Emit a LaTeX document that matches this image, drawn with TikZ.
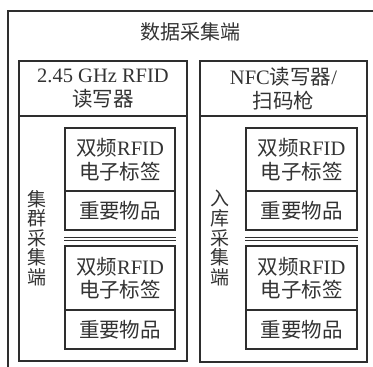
\documentclass[tikz,border=0pt]{standalone}
\usepackage{fontspec}
\setmainfont{Liberation Serif}
\newfontfamily\cjk{Noto Sans CJK SC}
\newcommand{\zh}[1]{{\cjk #1}}
\definecolor{ln}{HTML}{2E2E2E}
\definecolor{tx}{HTML}{333333}
\tikzset{
  box/.style={draw=ln, line width=1.2pt, rectangle, inner sep=0pt, align=center, text=tx,
    font=\fontsize{20.5}{23.5}\selectfont},
  lbl/.style={inner sep=0pt, align=center, text=tx, font=\fontsize{20}{23.5}\selectfont},
  vlbl/.style={inner sep=0pt, align=center, text=tx, font=\fontsize{19}{19.6}\selectfont},
  sep/.style={draw=ln, line width=1.2pt}
}
\begin{document}
\begin{tikzpicture}[x=1pt,y=-1pt]
\useasboundingbox (0,0) rectangle (373,367);
\clip (0,0) rectangle (373,367);
% outer
\node[box, minimum width=392pt, minimum height=390pt] (outer) at (204,206) {};
\node[lbl] (title) at (190,32) {\zh{数据采集端}};
% left column
\node[box, minimum width=168pt, minimum height=55pt] (lh) at (103,88.5) {2.45 GHz RFID\\\zh{读写器}};
\node[box, minimum width=168pt, minimum height=245pt] (lb) at (103,238.5) {};
\node[vlbl] (lv) at (37,238) {\zh{集}\\\zh{群}\\\zh{采}\\\zh{集}\\\zh{端}};
% right column
\node[box, minimum width=167pt, minimum height=55pt] (rh) at (283.5,88.5) {NFC\zh{读写器}/\\\zh{扫码枪}};
\node[box, minimum width=167pt, minimum height=246pt] (rb) at (283.5,239) {};
\node[vlbl] (rv) at (220,238) {\zh{入}\\\zh{库}\\\zh{采}\\\zh{集}\\\zh{端}};
% left tags
\node[box, minimum width=110pt, minimum height=63pt] (la1) at (120,159.5) {\zh{双频}RFID\\\zh{电子标签}};
\node[box, minimum width=110pt, minimum height=39pt] (lb1) at (120,210.5) {\zh{重要物品}};
\node[box, minimum width=110pt, minimum height=64pt] (la2) at (120,278) {\zh{双频}RFID\\\zh{电子标签}};
\node[box, minimum width=110pt, minimum height=39pt] (lb2) at (120,329.5) {\zh{重要物品}};
\draw[sep] ([yshift=-6.5pt]lb1.south west) -- ([yshift=-6.5pt]lb1.south east);
\draw[sep] ([yshift=-9.5pt]lb1.south west) -- ([yshift=-9.5pt]lb1.south east);
% right tags
\node[box, minimum width=111pt, minimum height=63pt] (ra1) at (301.5,159.5) {\zh{双频}RFID\\\zh{电子标签}};
\node[box, minimum width=111pt, minimum height=39pt] (rb1) at (301.5,210.5) {\zh{重要物品}};
\node[box, minimum width=111pt, minimum height=64pt] (ra2) at (301.5,278) {\zh{双频}RFID\\\zh{电子标签}};
\node[box, minimum width=111pt, minimum height=39pt] (rb2) at (301.5,329.5) {\zh{重要物品}};
\draw[sep] ([yshift=-6.5pt]rb1.south west) -- ([yshift=-6.5pt]rb1.south east);
\draw[sep] ([yshift=-9.5pt]rb1.south west) -- ([yshift=-9.5pt]rb1.south east);
\end{tikzpicture}
\end{document}
